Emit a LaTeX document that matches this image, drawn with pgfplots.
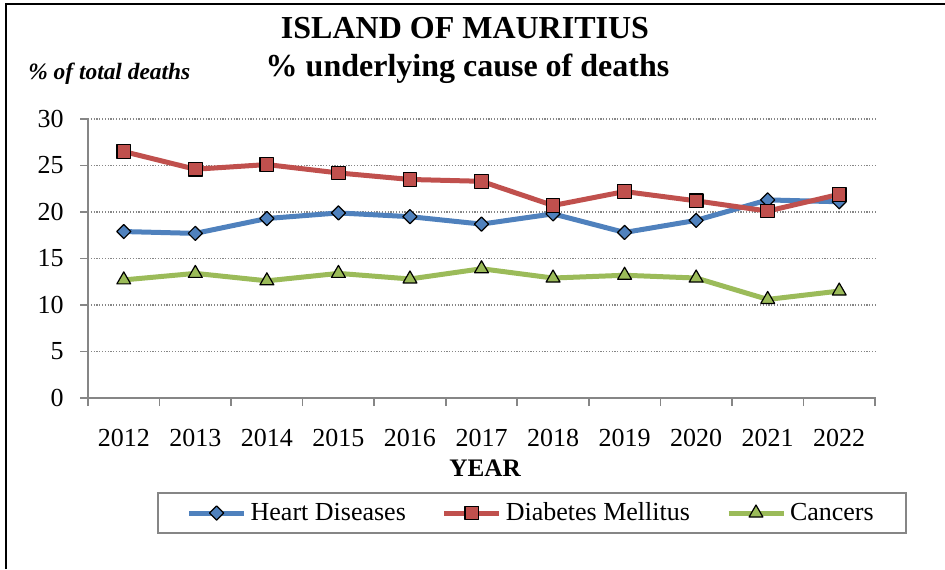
\documentclass[border=0pt]{standalone}
\usepackage{fontspec}
\setmainfont{Liberation Serif}
\usepackage{pgfplots}
\pgfplotsset{compat=1.18}
\definecolor{hdblue}{HTML}{4F81BD}
\definecolor{dmred}{HTML}{C0504D}
\definecolor{cagreen}{HTML}{9BBB59}
\definecolor{axgray}{HTML}{868686}
\begin{document}
\begin{tikzpicture}[x=1pt,y=1pt]
\begin{axis}[
  at={(44pt,85.5pt)}, anchor=south west,
  scale only axis, width=393.5pt, height=139.5pt,
  xmin=-0.5, xmax=10.5, ymin=0, ymax=30,
  axis x line*=bottom, axis y line*=left,
  axis line style={axgray, line width=0.8pt, -},
  xtick={-0.5,0.5,1.5,2.5,3.5,4.5,5.5,6.5,7.5,8.5,9.5,10.5},
  xticklabel={\mbox{}},
  extra x ticks={0,1,2,3,4,5,6,7,8,9,10},
  extra x tick labels={2012,2013,2014,2015,2016,2017,2018,2019,2020,2021,2022},
  extra x tick style={major tick length=0pt, grid=none,
    xticklabel style={anchor=north, yshift=-15.2pt}},
  ytick={0,5,10,15,20,25,30},
  tick align=outside,
  major tick length=4pt,
  tick style={axgray, line width=0.8pt},
  ymajorgrids,
  grid style={axgray, line width=0.6pt, dash pattern=on 0.6pt off 0.8pt},
  /pgf/number format/assume math mode=true,
  tick label style={font=\fontsize{13pt}{15pt}\selectfont, inner sep=0pt},
  yticklabel style={anchor=east, xshift=-8pt},
  legend columns=3,
  legend style={at={(0.5644,-0.4122)}, anchor=center, draw=axgray, line width=0.8pt,
    inner xsep=14.25pt, inner ysep=2.6pt, font=\fontsize{13pt}{15pt}\selectfont,
    /tikz/every even column/.append style={column sep=16pt}},
  legend cell align=left,
  legend image code/.code={\draw[mark repeat=2,mark phase=2,#1] plot coordinates {(0pt,0pt) (13.75pt,0pt) (27.5pt,0pt)};},
  every axis plot/.append style={line join=round},
]
\addplot[color=hdblue, line width=2.5pt, mark=square*, mark size=2.5pt,
  mark options={rotate=45, fill=hdblue, draw=black, line width=0.6pt}]
  coordinates {(0,17.9) (1,17.7) (2,19.3) (3,19.9) (4,19.5) (5,18.7) (6,19.8) (7,17.8) (8,19.1) (9,21.3) (10,21.1)};
\addlegendentry{Heart Diseases}
\addplot[color=dmred, line width=2.5pt, mark=square*, mark size=3.4pt,
  mark options={fill=dmred, draw=black, line width=0.6pt}]
  coordinates {(0,26.5) (1,24.6) (2,25.1) (3,24.2) (4,23.5) (5,23.3) (6,20.7) (7,22.2) (8,21.2) (9,20.1) (10,21.9)};
\addlegendentry{Diabetes Mellitus}
\addplot[color=cagreen, line width=2.5pt, mark=triangle*, mark size=4pt,
  mark options={fill=cagreen, draw=black, line width=0.6pt}]
  coordinates {(0,12.7) (1,13.4) (2,12.6) (3,13.4) (4,12.8) (5,13.9) (6,12.9) (7,13.2) (8,12.9) (9,10.6) (10,11.5)};
\addlegendentry{Cancers}
\end{axis}
\node[anchor=base, inner sep=0pt, font=\bfseries\fontsize{16pt}{18pt}\selectfont] at (232.5,265.35) {ISLAND OF MAURITIUS};
\node[anchor=base, inner sep=0pt, font=\bfseries\fontsize{16pt}{18pt}\selectfont] at (233.75,246.5) {\% underlying cause of deaths};
\node[anchor=base west, inner sep=0pt, font=\bfseries\itshape\fontsize{11.7pt}{14pt}\selectfont] at (14,244.5) {\% of total deaths};
\node[anchor=base, inner sep=0pt, font=\bfseries\fontsize{12.6pt}{14pt}\selectfont] at (242.5,46.15) {YEAR};
\draw[line width=0.85pt] (2.85,0) -- (2.85,282.4) -- (472.5,282.4);
\pgfresetboundingbox
\path[use as bounding box] (0,0) rectangle (472.5,284.5);
\end{tikzpicture}
\end{document}
